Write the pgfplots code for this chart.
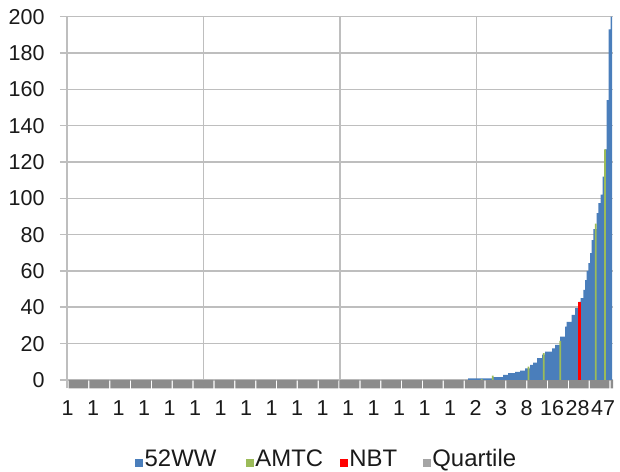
\documentclass[border=0pt]{standalone}
\usepackage{pgfplots}
\pgfplotsset{compat=1.18}
\usepackage{fontspec}
\setmainfont{Liberation Sans}
\definecolor{bluew}{HTML}{4A7EBB}
\definecolor{greena}{HTML}{9BBB59}
\definecolor{redn}{HTML}{FF0000}
\definecolor{grayq}{HTML}{8C8C8C}
\definecolor{grayl}{HTML}{A5A5A5}
\definecolor{gridc}{HTML}{BEBEBE}
\definecolor{txt}{HTML}{1A1A1A}
\begin{document}
\begin{tikzpicture}
\path[use as bounding box] (0,0) rectangle (310bp,236bp);
\begin{axis}[
  at={(33.5bp,41.85bp)}, anchor=south west,
  scale only axis, width=273bp, height=185.8bp,
  xmin=0, xmax=546, ymin=-4.6, ymax=200,
  axis x line*=bottom, axis y line*=left,
  x axis line style={draw=none},
  y axis line style={gridc, line width=0.8bp},
  xtick={136.5,273,409.5}, xticklabels={},
  extra x ticks={0.5,26,51.5,77,102.5,128,153.5,179,204.5,230,255.5,281,306.5,332,357.5,383,408.5,434,459.5,485,510.5,536},
  extra x tick labels={1,1,1,1,1,1,1,1,1,1,1,1,1,1,1,1,2,3,8,16,28,47},
  extra x tick style={grid=none, major tick length=0pt},
  xmajorgrids, ymajorgrids,
  grid style={gridc, line width=0.8bp},
  x tick style={draw=none},
  ytick={0,20,...,200},
  y tick style={gridc, line width=0.8bp},
  tick align=outside, major tick length=3.5bp,
  /pgf/number format/assume math mode=true,
  ticklabel style={font=\fontsize{10.8}{12}\selectfont, text=txt},
  yticklabel style={anchor=east, inner sep=0pt, xshift=-7.5bp},
  xticklabel style={anchor=base, inner sep=0pt, yshift=-13.8bp},
  clip=true,
]
% Quartile band
\addplot[ybar, bar shift=0pt, bar width=19.6, fill=grayq, draw=none] coordinates {
(11.43,-4.6)(32.28,-4.6)(53.13,-4.6)(73.98,-4.6)(94.83,-4.6)(115.68,-4.6)(136.53,-4.6)(157.38,-4.6)(178.23,-4.6)
(199.08,-4.6)(219.93,-4.6)(240.78,-4.6)(261.63,-4.6)(282.48,-4.6)(303.33,-4.6)(324.18,-4.6)(345.03,-4.6)(365.88,-4.6)
(386.73,-4.6)(407.58,-4.6)(428.43,-4.6)(449.28,-4.6)(470.13,-4.6)(490.98,-4.6)(511.83,-4.6)(532.68,-4.6)(553.53,-4.6)};
% 52WW
\addplot[const plot mark left, fill=bluew, draw=none] coordinates {
(401,0)(401,0.8)(426,1.5)(436,2.8)(441,3.7)(448,4.5)(453,5.2)(458,6.4)(463,8.3)(466,9.5)(470,12)(475,14)
(478,15.6)(485,17.4)(488,19.3)(493,23.9)(498,29.4)(499.7,32)(504.7,35.8)(508,39.5)(511.3,43)(513.7,45)
(516.3,49.6)(518,55)(519.7,60)(521.3,64.3)(523,69.8)(524.7,77)(526.3,83)(529.7,91.8)(531.3,97.3)(533.7,102)
(535.7,112)(538,127)(539.5,154)(541.5,193)(543.5,200)(545,0)} \closedcycle;
% AMTC
\addplot[ybar, bar shift=0pt, bar width=1.7, fill=greena, draw=none] coordinates {
(414.7,0.5)(425.7,2.4)(461.5,7.3)(476.8,14.7)(493.3,21.5)(528.7,86)(538,127)};
% NBT
\addplot[ybar, bar shift=0pt, bar width=2.2, fill=redn, draw=none] coordinates {(512.5,43.1)};
\end{axis}
\begin{scope}[x=0.5bp,y=-0.5bp,shift={(0,236bp)}]
\tikzset{lt/.style={anchor=base west, inner sep=0pt, font=\fontsize{12}{13}\selectfont, text=txt}}
\fill[bluew] (135,467) rectangle (143,459);
\node[lt] at (144.3,467) {52WW};
\fill[greena] (245.7,467) rectangle (253.7,459);
\node[lt] at (255,467) {AMTC};
\fill[redn] (339.7,467) rectangle (347.7,459);
\node[lt] at (349,467) {NBT};
\fill[grayl] (423,467) rectangle (431,459);
\node[lt] at (432,467) {Quartile};
\end{scope}
\end{tikzpicture}
\end{document}
